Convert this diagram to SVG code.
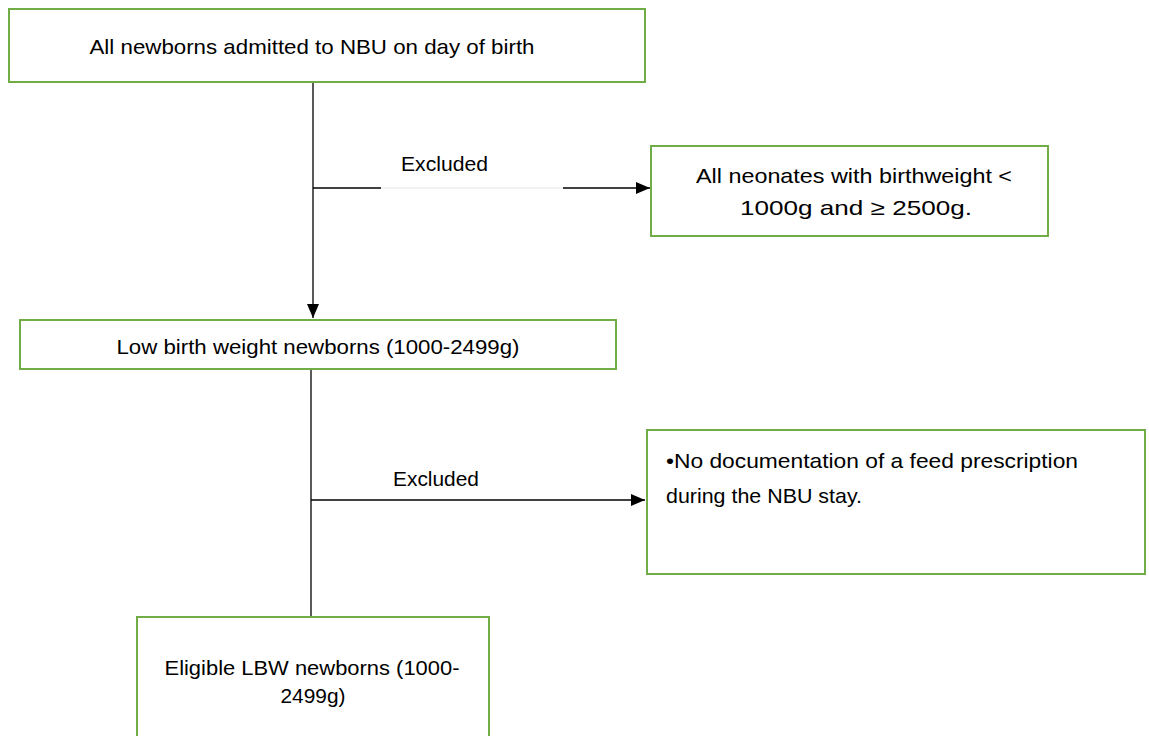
<svg xmlns="http://www.w3.org/2000/svg" width="1149" height="736" viewBox="0 0 1149 736">
  <defs>
    <marker id="arrow" viewBox="0 0 14 12" refX="14" refY="6" markerWidth="14" markerHeight="12" markerUnits="userSpaceOnUse" orient="auto">
      <path d="M0,0 L14,6 L0,12 z" fill="#000"/>
    </marker>
    <style>
      .box { fill: #fff; stroke: #70AD47; stroke-width: 2; }
      .lbl { font-family: "Liberation Sans", Arial, sans-serif; font-size: 21px; fill: #000; }
      .mid { text-anchor: middle; }
      .wire { fill: none; stroke: #000; stroke-width: 1.3; }
    </style>
  </defs>
  <rect width="1149" height="736" fill="#fff"/>

  <g id="connectors">
    <path class="wire" d="M313,82 V318" marker-end="url(#arrow)"/>
    <path class="wire" d="M313,188 H381"/>
    <path d="M381,188 H563" stroke="#eeeeee" stroke-width="1.3"/>
    <path class="wire" d="M563,188 H650" marker-end="url(#arrow)"/>
    <path class="wire" d="M311,369 V617"/>
    <path class="wire" d="M311,500 H645" marker-end="url(#arrow)"/>
    <text class="lbl" x="401" y="171" textLength="87" lengthAdjust="spacingAndGlyphs">Excluded</text>
    <text class="lbl" x="393" y="486" textLength="86" lengthAdjust="spacingAndGlyphs">Excluded</text>
  </g>

  <g id="all-newborns">
    <rect class="box" x="9" y="9" width="636" height="73"/>
    <text class="lbl mid" x="312" y="54" textLength="445" lengthAdjust="spacingAndGlyphs">All newborns admitted to NBU on day of birth</text>
  </g>

  <g id="excluded-weight">
    <rect class="box" x="651" y="146" width="397" height="90"/>
    <text class="lbl mid" x="854" y="183" textLength="316" lengthAdjust="spacingAndGlyphs">All neonates with birthweight &lt;</text>
    <text class="lbl mid" x="856" y="215" textLength="232" lengthAdjust="spacingAndGlyphs">1000g and ≥ 2500g.</text>
  </g>

  <g id="lbw-newborns">
    <rect class="box" x="20" y="320" width="596" height="49"/>
    <text class="lbl mid" x="318" y="354" textLength="403" lengthAdjust="spacingAndGlyphs">Low birth weight newborns (1000-2499g)</text>
  </g>

  <g id="excluded-feed">
    <rect class="box" x="647" y="430" width="498" height="144"/>
    <text class="lbl" x="666" y="468" textLength="412" lengthAdjust="spacingAndGlyphs">•No documentation of a feed prescription</text>
    <text class="lbl" x="666" y="503" textLength="196" lengthAdjust="spacingAndGlyphs">during the NBU stay.</text>
  </g>

  <g id="eligible-lbw">
    <rect class="box" x="137" y="617" width="352" height="130"/>
    <text class="lbl mid" x="312" y="675" textLength="295" lengthAdjust="spacingAndGlyphs">Eligible LBW newborns (1000-</text>
    <text class="lbl mid" x="313" y="703" textLength="65" lengthAdjust="spacingAndGlyphs">2499g)</text>
  </g>
</svg>
